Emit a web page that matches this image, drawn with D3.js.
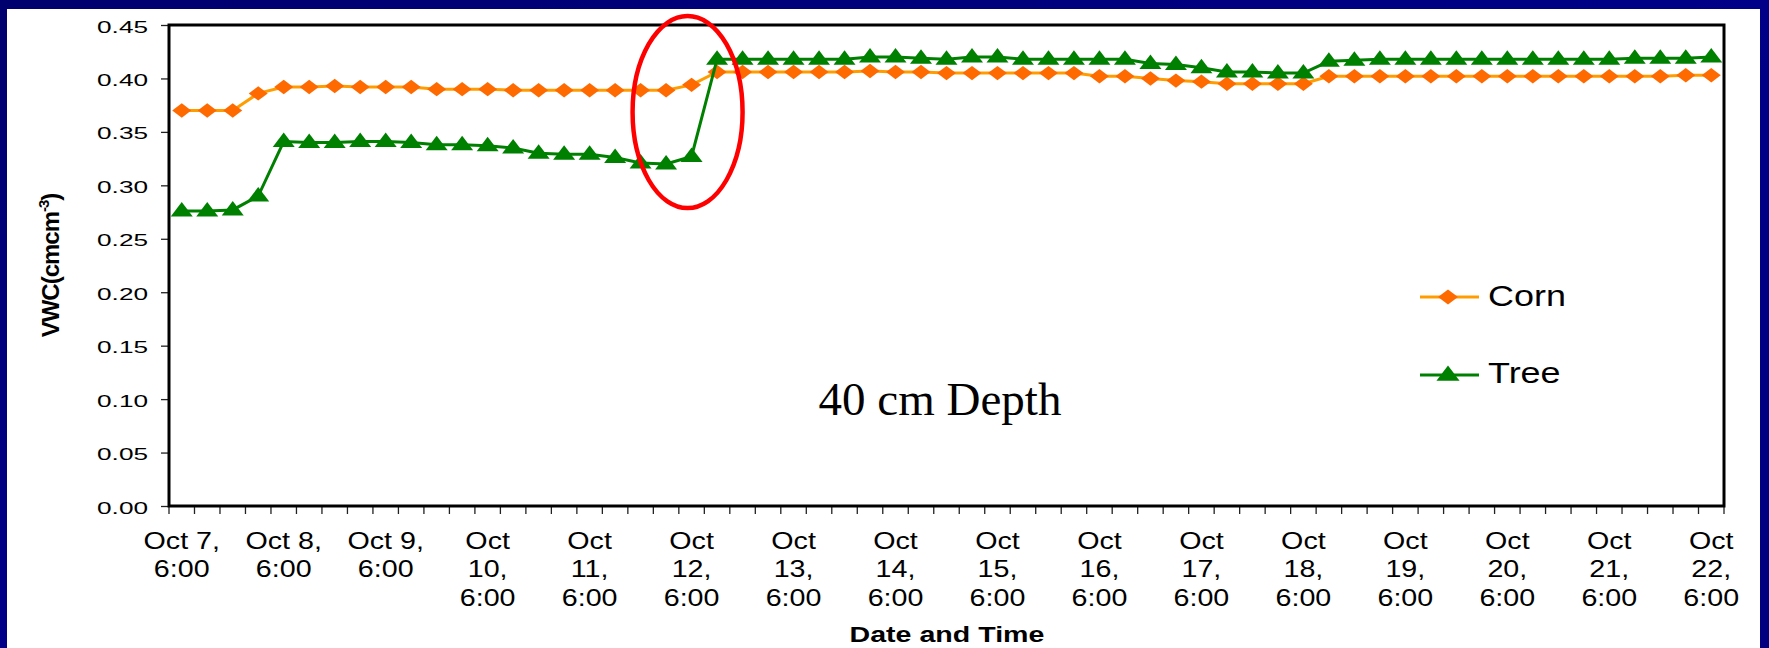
<!DOCTYPE html>
<html>
<head>
<meta charset="utf-8">
<script src="https://cdn.jsdelivr.net/npm/d3@7"></script>
<style>
  html, body { margin: 0; padding: 0; background: #000080; }
  svg { display: block; }
</style>
</head>
<body>
<div id="chart"></div>
<script>
// Soil water content at 40 cm, one reading every 6 hours (Oct 7 6:00 .. Oct 22 6:00)
const corn = [
  0.370, 0.370, 0.370, 0.386, 0.392, 0.392, 0.393, 0.392, 0.392, 0.392,
  0.390, 0.390, 0.390, 0.389, 0.389, 0.389, 0.389, 0.389, 0.389, 0.389,
  0.394, 0.406, 0.406, 0.406, 0.406, 0.406, 0.406, 0.407, 0.406, 0.406,
  0.405, 0.405, 0.405, 0.405, 0.405, 0.405, 0.402, 0.402, 0.400, 0.398,
  0.397, 0.395, 0.395, 0.395, 0.395, 0.402, 0.402, 0.402, 0.402, 0.402,
  0.402, 0.402, 0.402, 0.402, 0.402, 0.402, 0.402, 0.402, 0.402, 0.403, 0.403
];
const tree = [
  0.276, 0.276, 0.277, 0.290, 0.341, 0.340, 0.340, 0.341, 0.341, 0.340,
  0.338, 0.338, 0.337, 0.335, 0.330, 0.329, 0.329, 0.326, 0.321, 0.320,
  0.327, 0.418, 0.418, 0.418, 0.418, 0.418, 0.418, 0.420, 0.420, 0.419,
  0.418, 0.420, 0.420, 0.418, 0.418, 0.418, 0.418, 0.418, 0.414, 0.413,
  0.410, 0.406, 0.406, 0.405, 0.405, 0.416, 0.417, 0.418, 0.418, 0.418,
  0.418, 0.418, 0.418, 0.418, 0.418, 0.418, 0.418, 0.419, 0.419, 0.419, 0.420
];
// category label shown on every 4th reading (once a day)
const labelEvery = 4;
const tickLabels = [
  ["Oct 7,", "6:00"], ["Oct 8,", "6:00"], ["Oct 9,", "6:00"],
  ["Oct", "10,", "6:00"], ["Oct", "11,", "6:00"], ["Oct", "12,", "6:00"],
  ["Oct", "13,", "6:00"], ["Oct", "14,", "6:00"], ["Oct", "15,", "6:00"],
  ["Oct", "16,", "6:00"], ["Oct", "17,", "6:00"], ["Oct", "18,", "6:00"],
  ["Oct", "19,", "6:00"], ["Oct", "20,", "6:00"], ["Oct", "21,", "6:00"],
  ["Oct", "22,", "6:00"]
];
const yTicks = [0, 0.05, 0.10, 0.15, 0.20, 0.25, 0.30, 0.35, 0.40, 0.45];
const seriesNames = ["Corn", "Tree"];

function drawChart() {
  const width = 1769, height = 648;
  const plot = { left: 169, right: 1724, top: 25, bottom: 506 };
  const sans = "'Liberation Sans', Arial, Helvetica, sans-serif";

  const svg = d3.select("#chart")
    .append("svg")
    .attr("width", width)
    .attr("height", height);

  // Slide background and white panel.
  const grad = svg.append("defs").append("linearGradient")
    .attr("id", "bg").attr("x1", 0).attr("y1", 0).attr("x2", 1).attr("y2", 1);
  grad.append("stop").attr("offset", "0%").attr("stop-color", "#00006e");
  grad.append("stop").attr("offset", "50%").attr("stop-color", "#000088");
  grad.append("stop").attr("offset", "100%").attr("stop-color", "#000080");
  svg.append("rect").attr("width", width).attr("height", height).attr("fill", "url(#bg)");
  svg.append("rect")
    .attr("x", 7).attr("y", 9)
    .attr("width", 1760 - 7).attr("height", height - 9)
    .attr("fill", "#fff");

  // Scales: one band per 6-hour reading.
  const x = d3.scaleBand()
    .domain(d3.range(corn.length))
    .range([plot.left, plot.right])
    .padding(0);
  const xc = i => x(i) + x.bandwidth() / 2;
  const y = d3.scaleLinear()
    .domain([0, 0.45])
    .range([plot.bottom, plot.top]);

  // Y axis with ticks and (stretched) labels.
  svg.append("g")
    .attr("transform", `translate(${plot.left},0)`)
    .call(d3.axisLeft(y).tickValues(yTicks).tickFormat(d3.format(".2f")).tickSize(8))
    .call(g => g.select(".domain").remove())
    .call(g => g.selectAll("line").attr("stroke", "#222").attr("stroke-width", 1.3))
    .call(g => g.selectAll("text")
      .attr("x", 0).attr("dy", null).attr("y", 7)
      .attr("text-anchor", "end")
      .attr("transform", "translate(-21,0) scale(1.54,1)")
      .style("font-family", sans)
      .style("font-size", "17px")
      .attr("fill", "#000"));

  // X axis tick marks at band boundaries.
  const bounds = d3.range(corn.length + 1).map(i => i < corn.length ? x(i) : plot.right);
  svg.append("g")
    .selectAll("line")
    .data(bounds)
    .enter()
    .append("line")
    .attr("x1", d => d).attr("x2", d => d)
    .attr("y1", plot.bottom).attr("y2", plot.bottom + 8)
    .attr("stroke", "#222")
    .attr("stroke-width", 1.3);

  // Multi-line category labels, once a day.
  const labels = svg.append("g")
    .selectAll("g")
    .data(tickLabels)
    .enter()
    .append("g")
    .attr("transform", (d, k) => `translate(${xc(k * labelEvery)},0) scale(1.17,1)`);
  labels.selectAll("text")
    .data(d => d)
    .enter()
    .append("text")
    .attr("x", 0)
    .attr("y", (d, j) => 549 + j * 28.5)
    .attr("text-anchor", "middle")
    .style("font-family", sans)
    .style("font-size", "24.5px")
    .text(d => d);

  // Plot frame.
  svg.append("rect")
    .attr("x", plot.left).attr("y", plot.top)
    .attr("width", plot.right - plot.left)
    .attr("height", plot.bottom - plot.top)
    .attr("fill", "none")
    .attr("stroke", "#000")
    .attr("stroke-width", 3);

  // Series styles.
  const styles = {
    Corn: { line: "#ff9d00", marker: "#ff6a00", symbol: "diamond" },
    Tree: { line: "#008000", marker: "#008000", symbol: "triangle" }
  };
  const series = [
    { name: seriesNames[0], values: corn },
    { name: seriesNames[1], values: tree }
  ];

  // Markers as paths, slightly wider than tall like the original.
  const markerPath = (type, cx, cy, s) => {
    if (type === "diamond") {
      const w = 9.5 * s, h = 7.2 * s;
      return `M${cx},${cy - h}L${cx + w},${cy}L${cx},${cy + h}L${cx - w},${cy}Z`;
    }
    const w = 11 * s, h = 14.5 * s;
    return `M${cx},${cy - h * 0.62}L${cx + w},${cy + h * 0.38}L${cx - w},${cy + h * 0.38}Z`;
  };

  const line = d3.line()
    .x((d, i) => xc(i))
    .y(d => y(d));

  series.forEach(s => {
    const st = styles[s.name];
    svg.append("path")
      .datum(s.values)
      .attr("fill", "none")
      .attr("stroke", st.line)
      .attr("stroke-width", 3)
      .attr("d", line);
    svg.append("g")
      .selectAll("path")
      .data(s.values)
      .enter()
      .append("path")
      .attr("d", (d, i) => markerPath(st.symbol, xc(i), y(d), 1))
      .attr("fill", st.marker);
  });

  // Legend.
  const legendRows = [
    { name: "Corn", ly: 297, ty: 306 },
    { name: "Tree", ly: 375, ty: 383 }
  ];
  legendRows.forEach(r => {
    const st = styles[r.name];
    svg.append("line")
      .attr("x1", 1420).attr("x2", 1479)
      .attr("y1", r.ly).attr("y2", r.ly)
      .attr("stroke", st.line)
      .attr("stroke-width", 3);
    svg.append("path")
      .attr("d", markerPath(st.symbol, 1448, r.ly, 1.05))
      .attr("fill", st.marker);
    svg.append("text")
      .attr("transform", `translate(1488,${r.ty}) scale(1.24,1)`)
      .style("font-family", sans)
      .style("font-size", "29px")
      .text(r.name);
  });

  // Axis titles.
  svg.append("text")
    .attr("transform", `translate(947,642) scale(1.3,1)`)
    .attr("text-anchor", "middle")
    .style("font-family", sans)
    .style("font-size", "22px")
    .style("font-weight", "bold")
    .text("Date and Time");

  const yTitle = svg.append("text")
    .attr("transform", `translate(59,${(plot.top + plot.bottom) / 2}) rotate(-90)`)
    .attr("text-anchor", "middle")
    .style("font-family", sans)
    .style("font-size", "24px")
    .style("font-weight", "bold")
    .style("letter-spacing", "-1px");
  yTitle.append("tspan").text("VWC(cmcm");
  yTitle.append("tspan").attr("dy", -10).style("font-size", "15px").text("-3");
  yTitle.append("tspan").attr("dy", 10).text(")");

  // Annotation text.
  svg.append("text")
    .attr("x", 940).attr("y", 415)
    .attr("text-anchor", "middle")
    .style("font-family", "'Liberation Serif', 'Times New Roman', serif")
    .style("font-size", "47px")
    .text("40 cm Depth");

  // Red ellipse around the jump in the tree series.
  svg.append("ellipse")
    .attr("cx", xc(20) - 4)
    .attr("cy", y(0.3685))
    .attr("rx", 55)
    .attr("ry", 96)
    .attr("fill", "none")
    .attr("stroke", "#ff0000")
    .attr("stroke-width", 4.5);
}

drawChart();
</script>
</body>
</html>
